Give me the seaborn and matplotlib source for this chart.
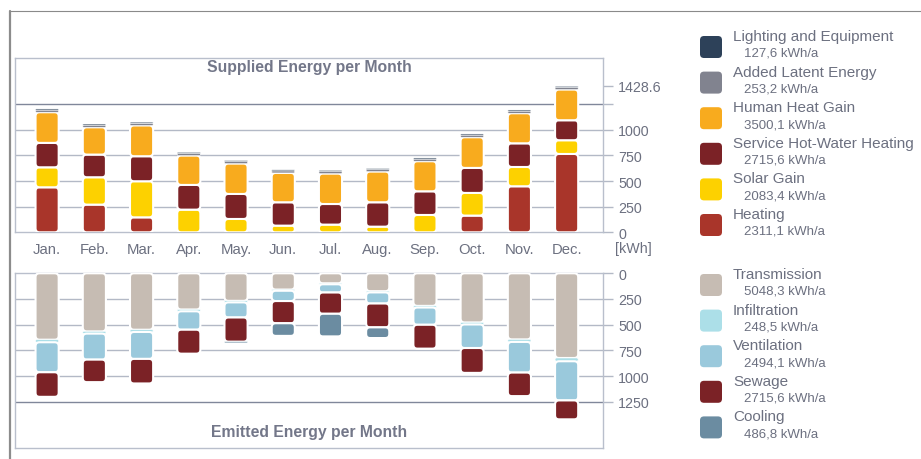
import numpy as np
import seaborn as sns
import matplotlib.pyplot as plt
from matplotlib.patches import FancyBboxPatch

months = ["Jan.", "Feb.", "Mar.", "Apr.", "May.", "Jun.",
          "Jul.", "Aug.", "Sep.", "Oct.", "Nov.", "Dec."]

# supplied energy per month [kWh], bottom to top
heating = [439, 270, 146, 0, 0, 0, 0, 0, 0, 163, 449, 764]
solar = [195, 267, 352, 221, 130, 65, 75, 55, 169, 221, 188, 134]
hot_water = [238, 221, 244, 241, 244, 228, 201, 238, 231, 244, 231, 195]
human = [299, 266, 300, 286, 296, 286, 296, 299, 293, 299, 293, 299]
latent = [21, 21, 21, 21, 20, 20, 21, 20, 21, 21, 21, 21]
lighting = [11, 11, 11, 11, 10, 10, 11, 10, 11, 11, 11, 11]

# emitted energy per month [kWh], top to bottom
transmission = [646, 565, 549, 352, 268, 158, 97, 174, 317, 478, 643, 824]
infiltration = [25, 22, 22, 18, 15, 12, 10, 12, 16, 20, 25, 32]
ventilation = [292, 253, 262, 179, 147, 100, 80, 108, 168, 229, 298, 381]
sewage = [239, 219, 239, 233, 235, 216, 207, 232, 232, 242, 229, 184]
cooling = [0, 0, 0, 0, 12, 123, 220, 104, 0, 0, 0, 0]

supplied_names = ["Lighting and Equipment", "Added Latent Energy", "Human Heat Gain",
                  "Service Hot-Water Heating", "Solar Gain", "Heating"]
supplied_totals = ["127,6 kWh/a", "253,2 kWh/a", "3500,1 kWh/a",
                   "2715,6 kWh/a", "2083,4 kWh/a", "2311,1 kWh/a"]
emitted_names = ["Transmission", "Infiltration", "Ventilation", "Sewage", "Cooling"]
emitted_totals = ["5048,3 kWh/a", "248,5 kWh/a", "2494,1 kWh/a",
                  "2715,6 kWh/a", "486,8 kWh/a"]

supplied_colors = ["#2d4159", "#81838f", "#f8ab1e", "#7b2226", "#fdd100", "#a9352a"]
emitted_colors = ["#c6bcb3", "#acdfe8", "#9ac9dc", "#7b2226", "#6b8ca1"]

txt = "#6c7080"
grid_c = "#b3b9c6"
dark_grid = "#80879a"

sns.set_style("white")
plt.rcParams["font.family"] = ["Liberation Sans", "DejaVu Sans"]

W, H = 921, 460
fig = plt.figure(figsize=(W / 100, H / 100), dpi=100)


def frac(x0, y0, x1, y1):
    return [x0 / W, 1 - y1 / H, (x1 - x0) / W, (y1 - y0) / H]


ov = fig.add_axes([0, 0, 1, 1])
ov.set_xlim(0, W)
ov.set_ylim(H, 0)
ov.axis("off")

ax_top = fig.add_axes(frac(15, 59, 603, 233.3))
ax_bot = fig.add_axes(frac(15, 274.3, 603, 449))


def stack(ax, layers, colors):
    bottom = np.zeros(len(months))
    for vals, col in zip(layers, colors):
        sns.barplot(x=months, y=vals, order=months, color=col, saturation=1,
                    width=0.49, errorbar=None, bottom=bottom.copy(), ax=ax)
        bottom += np.array(vals)


def round_bars(ax, radius=4):
    p0 = ax.transData.transform((0, 0))
    ppx = abs(ax.transData.transform((1, 0))[0] - p0[0])
    ppy = abs(ax.transData.transform((0, 1))[1] - p0[1])
    for p in list(ax.patches):
        x, y, w, h = p.get_x(), p.get_y(), p.get_width(), p.get_height()
        fc = p.get_facecolor()
        p.remove()
        hpx = h * ppy
        if hpx <= 0:
            continue
        r = min(radius, hpx / 2, w * ppx / 2)
        lw = 1.5 if hpx > 4 else 0.4
        ax.add_patch(FancyBboxPatch((x, y), w, h,
                                    boxstyle=f"round,pad=0,rounding_size={r / ppx}",
                                    mutation_aspect=ppx / ppy,
                                    fc=fc, ec="white", lw=lw, zorder=3))


stack(ax_top, [heating, solar, hot_water, human, latent, lighting],
      supplied_colors[::-1])
stack(ax_bot, [transmission, infiltration, ventilation, sewage, cooling],
      emitted_colors)

for ax in (ax_top, ax_bot):
    ax.set_xlim(-0.68, 11.77)
    ax.set_xlabel("")
    ax.set_ylabel("")
    for v in [250, 500, 750, 1000]:
        ax.axhline(v, color=grid_c, lw=1, zorder=1)
    ax.axhline(1250, color=dark_grid, lw=1, zorder=1)
    for s in ax.spines.values():
        s.set_visible(True)
        s.set_color("#b9bfcc")
        s.set_linewidth(1)
    ax.yaxis.tick_right()
    ax.tick_params(axis="y", length=7, width=1, color=grid_c, pad=4,
                   labelsize=10.3, labelcolor=txt, direction="out")

ax_top.set_ylim(0, 1700)
ax_top.set_yticks([0, 250, 500, 750, 1000, 1250, 1428.6],
                  ["0", "250", "500", "750", "1000", "", "1428.6"])
ax_top.tick_params(axis="x", length=0, pad=7, labelsize=10.7, labelcolor=txt)

ax_bot.set_ylim(1700, 0)
ax_bot.set_yticks([0, 250, 500, 750, 1000, 1250],
                  ["0", "250", "500", "750", "1000", "1250"])
ax_bot.set_xticks([])

round_bars(ax_top)
round_bars(ax_bot)

ax_top.text(0.5, 1 - 8.7 / 174.3, "Supplied Energy per Month", transform=ax_top.transAxes,
            ha="center", va="center", fontsize=11.3, fontweight="bold", color="#737789")
ax_bot.text(0.5, 16.3 / 174.7, "Emitted Energy per Month", transform=ax_bot.transAxes,
            ha="center", va="center", fontsize=11.3, fontweight="bold", color="#737789")

# outer frame
ov.plot([10, W], [12, 12], color="#8a8a8a", lw=0.8)
ov.plot([10, 10], [12, H], color="#8c8c8c", lw=1.6)
ov.text(615, 249, "[kWh]", ha="left", va="center", fontsize=10.3, color=txt)

# legend
for names, totals, colors, y0 in [(supplied_names, supplied_totals, supplied_colors, 37),
                                  (emitted_names, emitted_totals, emitted_colors, 275)]:
    for i, (n, t, c) in enumerate(zip(names, totals, colors)):
        y = y0 + i * 35.6
        ov.add_patch(FancyBboxPatch((700, y), 22, 22, boxstyle="round,pad=0,rounding_size=4",
                                    fc=c, ec="none"))
        ov.text(733, y, n, ha="left", va="center", fontsize=11, color=txt)
        ov.text(744, y + 17, t, ha="left", va="center", fontsize=9.5, color=txt)

fig.savefig("out.png", dpi=100)
